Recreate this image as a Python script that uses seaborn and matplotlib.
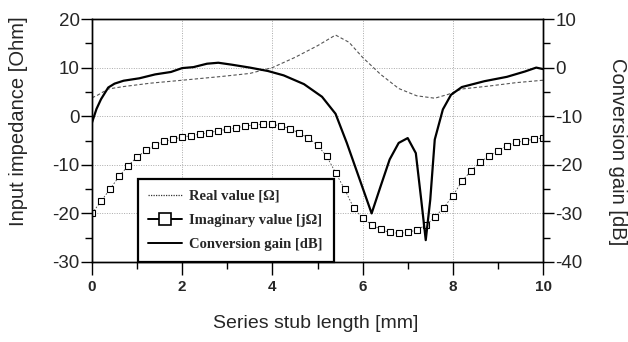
import matplotlib
matplotlib.use("Agg")
import matplotlib.pyplot as plt
from matplotlib.lines import Line2D
from matplotlib.ticker import MultipleLocator
import numpy as np
import pandas as pd
import seaborn as sns

# Series stub length sweep [mm]
x_imag = [0.0, 0.2, 0.4, 0.6, 0.8, 1.0, 1.2, 1.4, 1.6, 1.8, 2.0, 2.2, 2.4, 2.6, 2.8,
          3.0, 3.2, 3.4, 3.6, 3.8, 4.0, 4.2, 4.4, 4.6, 4.8, 5.0, 5.2, 5.4, 5.6, 5.8,
          6.0, 6.2, 6.4, 6.6, 6.8, 7.0, 7.2, 7.4, 7.6, 7.8, 8.0, 8.2, 8.4, 8.6, 8.8,
          9.0, 9.2, 9.4, 9.6, 9.8, 10.0]
imag = [-20.0, -17.5, -15.0, -12.4, -10.2, -8.4, -7.0, -6.0, -5.2, -4.7, -4.3, -4.0,
        -3.7, -3.4, -3.0, -2.7, -2.4, -2.0, -1.8, -1.6, -1.7, -2.0, -2.6, -3.5, -4.5,
        -6.0, -8.2, -11.6, -15.0, -18.8, -21.0, -22.3, -23.3, -23.9, -24.1, -23.9,
        -23.4, -22.4, -20.8, -18.8, -16.4, -13.4, -11.3, -9.5, -8.2, -7.1, -6.1,
        -5.4, -5.1, -4.7, -4.5]

x_real = [0.0, 0.1, 0.36, 0.7, 1.3, 2.0, 2.9, 3.5, 4.0, 4.5, 5.0, 5.4, 5.7, 6.0,
          6.4, 6.8, 7.2, 7.6, 7.9, 8.2, 8.8, 9.4, 10.0]
real = [3.8, 4.2, 5.6, 6.1, 6.8, 7.4, 8.2, 8.8, 10.0, 12.1, 14.5, 16.7, 15.2, 12.1,
        8.6, 5.7, 4.2, 3.7, 4.5, 5.6, 6.2, 6.9, 7.4]

x_gain = [0.0, 0.1, 0.2, 0.36, 0.5, 0.7, 1.05, 1.4, 1.75, 2.0, 2.25, 2.55, 2.8, 3.1,
          3.5, 3.9, 4.25, 4.7, 5.1, 5.4, 5.65, 5.95, 6.2, 6.4, 6.6, 6.8, 7.0, 7.18,
          7.3, 7.4, 7.5, 7.6, 7.78, 7.96, 8.2, 8.7, 9.2, 9.6, 9.85, 10.0]
gain = [-11.3, -8.5, -6.5, -4.1, -3.3, -2.7, -2.2, -1.4, -0.9, -0.1, 0.1, 0.8, 1.0,
        0.6, 0.0, -0.7, -1.6, -3.4, -6.0, -9.5, -15.5, -23.4, -30.0, -24.4, -18.9,
        -15.5, -14.5, -17.6, -27.2, -35.5, -27.2, -14.8, -8.6, -5.6, -4.0, -2.8,
        -1.9, -0.8, 0.0, -0.3]

x_ticks = [0, 2, 4, 6, 8, 10]
left_ticks = [20, 10, 0, -10, -20, -30]
right_ticks = [10, 0, -10, -20, -30, -40]

df_imag = pd.DataFrame({"x": x_imag, "y": imag})
df_real = pd.DataFrame({"x": x_real, "y": real})
df_gain = pd.DataFrame({"x": x_gain, "y": gain})

sns.set_style("ticks")
plt.rcParams["font.family"] = ["Liberation Sans", "DejaVu Sans"]
plt.rcParams["axes.unicode_minus"] = False

fig = plt.figure(figsize=(6.28, 3.42), dpi=100)
ax = fig.add_axes([92 / 628, 1 - 262 / 342, (543 - 92) / 628, (262 - 19) / 342])
ax2 = ax.twinx()

# Impedance curves on the left axis
sns.lineplot(data=df_real, x="x", y="y", ax=ax, color="#555555", lw=0.8,
             linestyle=(0, (3, 2)), legend=False)
sns.lineplot(data=df_imag, x="x", y="y", ax=ax, color="#444444", lw=0.6,
             linestyle=(0, (2, 2)), marker="s", markersize=4.6,
             markerfacecolor="white", markeredgecolor="black",
             markeredgewidth=0.8, legend=False)

# Conversion gain on the right axis
sns.lineplot(data=df_gain, x="x", y="y", ax=ax2, color="black", lw=1.6,
             legend=False)

ax.set_xlim(0, 10)
ax.set_ylim(-30, 20)
ax2.set_ylim(-40, 10)

ax.set_xticks(x_ticks)
ax.set_xticklabels([str(t) for t in x_ticks], fontweight="bold", fontsize=11)
ax.xaxis.set_minor_locator(MultipleLocator(1))
ax.set_yticks(left_ticks)
ax.set_yticklabels([str(t) for t in left_ticks], fontsize=13.5)
ax.yaxis.set_minor_locator(MultipleLocator(5))
ax2.set_yticks(right_ticks)
ax2.set_yticklabels([str(t) for t in right_ticks], fontsize=13.5)
ax2.yaxis.set_minor_locator(MultipleLocator(5))

ax.tick_params(axis="x", which="major", length=9, width=1, pad=4, color="black")
ax.tick_params(axis="x", which="minor", length=5, width=1, color="black")
ax.tick_params(axis="y", which="major", length=8, width=1, pad=1, color="black")
ax.tick_params(axis="y", which="minor", length=5, width=1, color="black")
ax2.tick_params(axis="y", which="major", length=8, width=1, pad=1, color="black")
ax2.tick_params(axis="y", which="minor", length=5, width=1, color="black")

ax.grid(True, which="major", color="#aaaaaa", linestyle=(0, (1, 1.5)), lw=0.7)
ax.set_axisbelow(True)

for a in (ax, ax2):
    for s in a.spines.values():
        s.set_visible(True)
        s.set_color("black")
        s.set_linewidth(1.0)

ax.set_xlabel("Series stub length [mm]", fontsize=14)
ax.set_ylabel("Input impedance [Ohm]", fontsize=14.5)
ax2.set_ylabel("Conversion gain [dB]", fontsize=14.5, rotation=270)
ax.xaxis.set_label_coords(0.497, -0.255)
ax.yaxis.set_label_coords(-0.162, 0.578)
ax2.yaxis.set_label_coords(1.166, 0.455)
ax2.yaxis.label.set_va("center")
ax.yaxis.label.set_va("center")
ax.xaxis.label.set_va("center")

handles = [
    Line2D([], [], color="#333333", lw=0.9, linestyle=(0, (1, 1))),
    Line2D([], [], color="black", lw=1.4, marker="s", markersize=8,
           markerfacecolor="white", markeredgecolor="black", markeredgewidth=1.2),
    Line2D([], [], color="black", lw=1.4),
]
labels = ["Real value [\u03a9]", "Imaginary value [j\u03a9]", "Conversion gain [dB]"]
leg = ax2.legend(handles, labels, loc="lower left", bbox_to_anchor=(0.101, 0.0),
                 prop={"family": ["Liberation Serif", "DejaVu Serif"],
                       "weight": "bold", "size": 10.5},
                 frameon=True, fancybox=False, handlelength=2.3, handletextpad=0.5,
                 borderpad=0.75, labelspacing=0.75, borderaxespad=0)
leg.get_frame().set_edgecolor("black")
leg.get_frame().set_linewidth(1.6)
leg.get_frame().set_alpha(1)

fig.savefig("out.png", dpi=100)
